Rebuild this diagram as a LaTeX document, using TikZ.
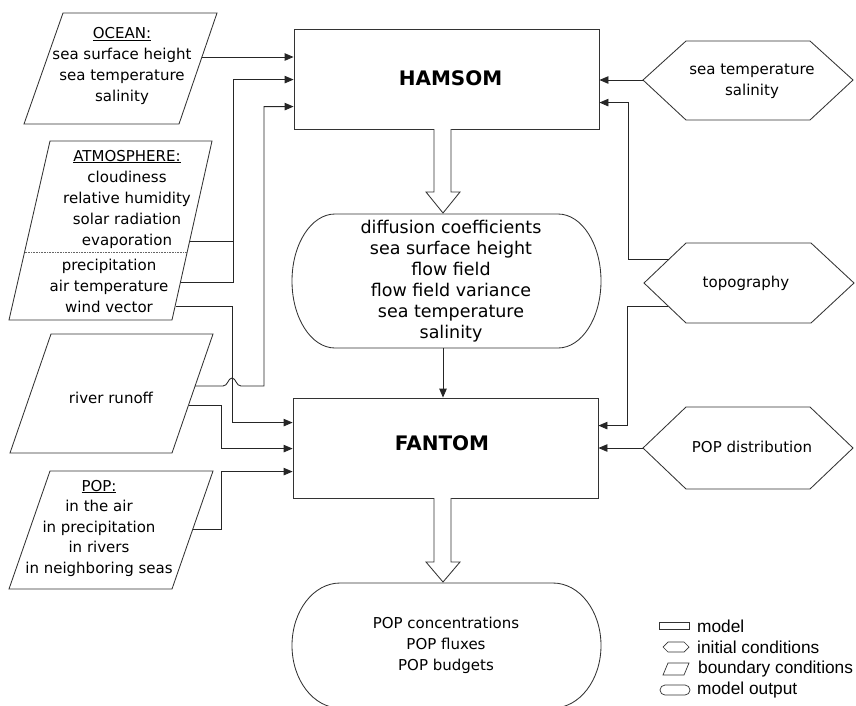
\documentclass[tikz,border=0pt]{standalone}
\usepackage{fontspec}
\setmainfont{DejaVu Sans}
\newfontfamily\legfont{Liberation Sans}
\usetikzlibrary{arrows.meta,calc}
\begin{document}
\begin{tikzpicture}[x=1pt,y=-1pt,
  conn/.style={draw=black!85, line width=0.85pt},
  arr/.style={conn, -{Triangle[length=9pt,width=7.5pt]}},
  shp/.style={draw=black!80, line width=0.85pt},
  txt/.style={inner sep=0pt, align=center, font=\fontsize{15}{21}\selectfont},
  bigtxt/.style={inner sep=0pt, align=center, font=\fontsize{17.5}{21}\selectfont},
  boxtxt/.style={inner sep=0pt, font=\fontsize{20}{24}\selectfont\bfseries},
  modelbox/.style={shp, minimum width=305pt, minimum height=100pt, inner sep=0pt},
  legtxt/.style={inner sep=0pt, anchor=west, font=\legfont\fontsize{17.3}{20}\selectfont}]

\useasboundingbox (0,0) rectangle (856,705);

% ---------- models ----------
\node[modelbox] (hamsom) at (446.5,79) {};
\node[boxtxt] (hamsomt) at (450.5,78) {HAMSOM};
\node[modelbox] (fantom) at (445.5,448) {};
\node[boxtxt] (fantomt) at (442,443) {FANTOM};

% ---------- outputs ----------
\draw[shp] (335,214) -- (558,214) arc[start angle=-90,end angle=90,x radius=43,y radius=67]
  -- (335,348) arc[start angle=90,end angle=270,x radius=43,y radius=67] -- cycle;
\node[bigtxt] (out1) at (451,281) {diffusion coefficients\\sea surface height\\flow field\\flow field variance\\sea temperature\\salinity};

\draw[shp] (340,583) -- (553,583) arc[start angle=-90,end angle=90,x radius=48,y radius=62.5]
  -- (340,708) arc[start angle=90,end angle=270,x radius=48,y radius=62.5] -- cycle;
\node[txt] (out2) at (446,645) {POP concentrations\\POP fluxes\\POP budgets};

% hollow arrows
\draw[shp, fill=white] (434,129) -- (434,192) -- (426,192) -- (443,213) -- (460,192) -- (451,192) -- (451,129);
\draw[shp, fill=white] (434,498) -- (434,562) -- (426,562) -- (443,582) -- (460,562) -- (451,562) -- (451,498);

% ---------- boundary conditions (left) ----------
\draw[shp] (63,13) -- (217,13) -- (179,124) -- (24,124) -- cycle;
\node[txt] (ocean) at (122,66) {\underline{OCEAN:}\\sea surface height\\sea temperature\\salinity};

\draw[shp] (50,141) -- (212,141) -- (172,320) -- (9,320) -- cycle;
\draw[draw=black!60, line width=0.6pt, densely dotted] (24.6,252) -- (187,252);
\node[txt] (atm1) at (127,199) {\underline{ATMOSPHERE:}\\cloudiness\\relative humidity\\solar radiation\\evaporation};
\node[txt] (atm2) at (109,286) {precipitation\\air temperature\\wind vector};

\draw[shp] (51,334) -- (213,334) -- (172,453) -- (10,453) -- cycle;
\node[txt] (river) at (111,398) {river runoff};

\draw[shp] (50,471) -- (213,471) -- (172,589) -- (9,589) -- cycle;
\node[txt, font=\fontsize{15}{20.5}\selectfont] (pop) at (99,528) {\underline{POP:}\\in the air\\in precipitation\\in rivers\\in neighboring seas};

% ---------- initial conditions (right) ----------
\draw[shp] (643,80) -- (686,41) -- (810,41) -- (853,80) -- (810,120) -- (686,120) -- cycle;
\node[txt] (seat) at (752,81) {sea temperature\\salinity};
\draw[shp] (644,283) -- (686,243) -- (811,243) -- (854,283) -- (811,323) -- (686,323) -- cycle;
\node[txt] (topo) at (746,283) {topography};
\draw[shp] (643,448) -- (686,407) -- (810,407) -- (853,448) -- (810,489) -- (686,489) -- cycle;
\node[txt] (popd) at (752,447) {POP distribution};

% ---------- connector end points ----------
\coordinate (oceanout) at (202,57);
\coordinate (atmA) at (190,241);
\coordinate (atmB) at (181,282);
\coordinate (atmC) at (175.5,306);
\coordinate (rivA) at (195,386);
\coordinate (rivB) at (188.5,405);
\coordinate (popout) at (193,529);
\coordinate (out1b) at (443,348);
\coordinate (h1w) at (643,80);
\coordinate (topoA) at (669,259);
\coordinate (topoB) at (668,306);
\coordinate (h3w) at (643,448);

% ---------- connectors ----------
\draw[arr] (oceanout) -- (oceanout -| hamsom.west);
\draw[conn] (atmA) -- (233,241);
\draw[arr] (atmB) -- (233,282) |- ($(hamsom.north west)+(0,51)$);
\draw[arr] (rivA) -- (223,386) .. controls (228,386) and (228,378) .. (232,378)
  .. controls (236,378) and (236,386) .. (241,386) -- (264,386) |- ($(hamsom.north west)+(0,78)$);
\draw[arr] (atmC) -- (232,306) |- ($(fantom.north west)+(0,25)$);
\draw[arr] (rivB) -- (221,405) |- ($(fantom.north west)+(0,51)$);
\draw[arr] (popout) -- (221,529) |- ($(fantom.north west)+(0,74)$);
\draw[arr] (out1b) -- (out1b |- fantom.north);
\draw[arr] (h1w) -- (h1w -| hamsom.east);
\draw[arr] (topoA) -- (628,259) |- ($(hamsom.north east)+(0,74)$);
\draw[arr] (topoB) -- (627,306) |- ($(fantom.north east)+(0,28)$);
\draw[arr] (h3w) -- (h3w -| fantom.east);

% ---------- legend ----------
\draw[shp, line width=0.7pt] (659,622) rectangle (689,629.5);
\node[legtxt] (lg1) at (697,626) {model};
\draw[shp, line width=0.7pt] (663,647) -- (668,642) -- (684,642) -- (689,647) -- (684,652) -- (668,652) -- cycle;
\node[legtxt] (lg2) at (697,647) {initial conditions};
\draw[shp, line width=0.7pt] (668,663) -- (689,663) -- (684,675) -- (663,675) -- cycle;
\node[legtxt] (lg3) at (698,669) {boundary conditions};
\draw[shp, line width=0.7pt] (665,685) -- (685,685) arc[start angle=-90,end angle=90,x radius=5,y radius=5]
  -- (665,695) arc[start angle=90,end angle=270,x radius=5,y radius=5] -- cycle;
\node[legtxt] (lg4) at (697,690) {model output};
\end{tikzpicture}
\end{document}
